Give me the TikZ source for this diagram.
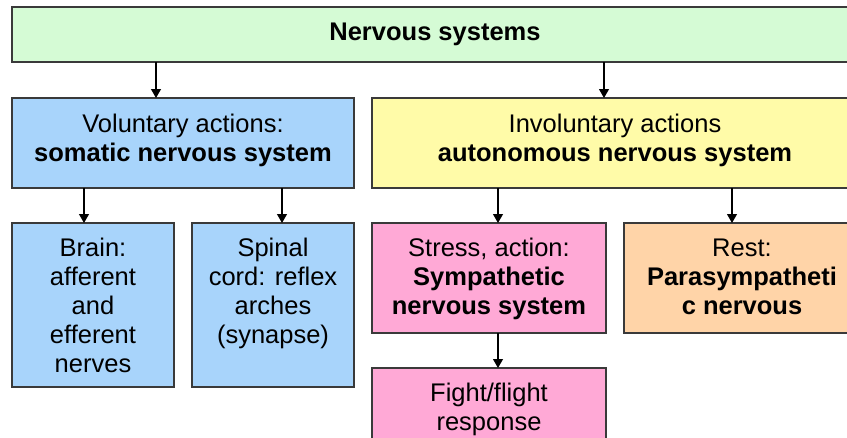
\documentclass[tikz,border=0pt]{standalone}
\usepackage{fontspec}
\setmainfont{Liberation Sans}
\usetikzlibrary{arrows.meta}
\definecolor{boxline}{HTML}{3A3A3A}
\definecolor{cgreen}{HTML}{D5FBD5}
\definecolor{cblue}{HTML}{A8D4FB}
\definecolor{cyellow}{HTML}{FFFBA8}
\definecolor{cpink}{HTML}{FFA9D6}
\definecolor{cpeach}{HTML}{FFD4A8}
\begin{document}
\begin{tikzpicture}[x=1pt,y=-1pt,
  box/.style={draw=boxline, line width=1.3pt, inner sep=0pt, outer sep=0pt},
  txt/.style={align=center, inner sep=0pt, outer sep=0pt, font=\fontsize{25.5}{29}\selectfont},
  toptxt/.style={txt, anchor=north},
  arr/.style={-{Triangle[width=10pt,length=9pt]}, line width=1.1pt, draw=black}]
\path[use as bounding box, fill=white] (0,0) rectangle (847,437);
\clip (0,0) rectangle (847,437);

% boxes
\node[box, fill=cgreen,  minimum width=846pt, minimum height=55pt]  (top)    at (435,34.5) {};
\node[box, fill=cblue,   minimum width=342pt, minimum height=90pt]  (vol)    at (183,143) {};
\node[box, fill=cyellow, minimum width=486pt, minimum height=90pt]  (inv)    at (615,143) {};
\node[box, fill=cblue,   minimum width=162pt, minimum height=164pt] (brain)  at (93,305) {};
\node[box, fill=cblue,   minimum width=162pt, minimum height=164pt] (spinal) at (273,305) {};
\node[box, fill=cpink,   minimum width=234pt, minimum height=110pt] (stress) at (489,278) {};
\node[box, fill=cpeach,  minimum width=236pt, minimum height=110pt] (rest)   at (742,278) {};
\node[box, fill=cpink,   minimum width=234pt, minimum height=102pt] (fight)  at (489,419) {};

% texts
\node[txt] (ttop) at (top.center) {\textbf{Nervous systems}};
\node[txt] (tvol) at ([yshift=3pt]vol.center) {Voluntary actions:\\\textbf{somatic nervous system}};
\node[txt] (tinv) at ([yshift=3pt]inv.center) {Involuntary actions\\\textbf{autonomous nervous system}};
\node[toptxt] (tbrain)  at ([yshift=-15.5pt]brain.north)  {Brain:\\afferent\\and\\efferent\\nerves};
\node[toptxt] (tspinal) at ([yshift=-15.5pt]spinal.north) {Spinal\\cord: reflex\\arches\\(synapse)};
\node[toptxt] (tstress) at ([yshift=-15.5pt]stress.north) {Stress, action:\\\textbf{Sympathetic}\\\textbf{nervous system}};
\node[toptxt] (trest)   at ([yshift=-15.5pt]rest.north)   {Rest:\\\textbf{Parasympatheti}\\\textbf{c nervous}};
\node[toptxt] (tfight)  at ([yshift=-15.5pt]fight.north)  {Fight/flight\\response};

% arrows
\draw[arr] ([xshift=-27pt]vol.north |- top.south) -- ([xshift=-27pt]vol.north);
\draw[arr] ([xshift=-11pt]inv.north |- top.south) -- ([xshift=-11pt]inv.north);
\draw[arr] ([xshift=-9pt]brain.north |- vol.south) -- ([xshift=-9pt]brain.north);
\draw[arr] ([xshift=9pt]spinal.north |- vol.south) -- ([xshift=9pt]spinal.north);
\draw[arr] ([xshift=9pt]stress.north |- inv.south) -- ([xshift=9pt]stress.north);
\draw[arr] ([xshift=-10pt]rest.north |- inv.south) -- ([xshift=-10pt]rest.north);
\draw[arr] ([xshift=9pt]stress.south) -- ([xshift=9pt]fight.north);
\end{tikzpicture}
\end{document}
